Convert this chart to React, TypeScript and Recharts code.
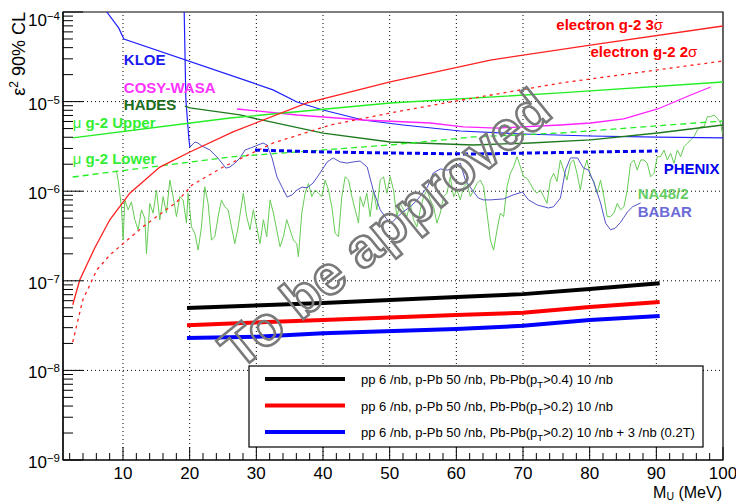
import React from 'react';
import { LineChart, Line, XAxis, YAxis, ReferenceLine, ReferenceArea, ReferenceDot } from 'recharts';

const FONT = '"Liberation Sans", Arial, Helvetica, sans-serif';

type Pt = [number, number];

// ---- series (M_U in MeV, epsilon^2) ----
const kloeA: Pt[] = [[7.57, 1e-4], [9.37, 6.6e-5], [10.13, 5.0e-5], [29.05, 1.66e-5], [32.5, 1.35e-5], [36.1, 9.9e-6], [40.0, 8.05e-6], [46.0, 6.23e-6], [52.0, 5.48e-6], [60.6, 4.7e-6], [70.0, 4.35e-6], [80.1, 4.13e-6], [90.1, 4.02e-6], [100, 3.93e-6]];
const kloeB: Pt[] = [[19.18, 1e-4], [19.43, 1.04e-5], [19.9, 3.7e-6], [20.04, 3.11e-6]];
const hades: Pt[] = [[19.28, 8.9e-6], [20.04, 8.5e-6], [27.55, 7.1e-6], [30.1, 6.4e-6], [40.0, 4.46e-6], [50.08, 3.54e-6], [62.55, 3.28e-6], [71.1, 3.45e-6], [80.13, 3.73e-6], [90.2, 4.46e-6], [100, 5.48e-6]];
const cosy: Pt[] = [[27.1, 8.27e-6], [36.1, 7.09e-6], [46.0, 6.23e-6], [56.1, 5.77e-6], [61.05, 5.21e-6], [66.2, 5.07e-6], [75.6, 5.48e-6], [80.13, 5.77e-6], [85.1, 6.4e-6], [90.2, 8.27e-6], [95.16, 1.185e-5], [98.15, 1.455e-5]];
const muUpper: Pt[] = [[2.46, 3.93e-6], [26.05, 6.56e-6], [50.08, 9.65e-6], [75.6, 1.25e-5], [100, 1.655e-5]];
const muLower: Pt[] = [[2.46, 1.44e-6], [26.05, 2.41e-6], [50.5, 3.3e-6], [62.55, 4.03e-6], [75.6, 4.46e-6], [100, 6.07e-6]];
const eg2s3: Pt[] = [[2.46, 5.4e-8], [3.51, 1.02e-7], [4.56, 1.5e-7], [5.76, 2.32e-7], [8.02, 4.8e-7], [11.02, 9.5e-7], [15.53, 1.86e-6], [20.04, 2.74e-6], [26.5, 4.6e-6], [37.6, 9.65e-6], [50.08, 1.66e-5], [65.1, 2.91e-5], [80.1, 4.28e-5], [100, 6.98e-5]];
const eg2s2: Pt[] = [[2.46, 2.07e-8], [3.96, 6.1e-8], [6.07, 1.32e-7], [8.02, 1.94e-7], [12.97, 4.0e-7], [18.08, 7.6e-7], [20.34, 1.17e-6], [25.0, 1.86e-6], [32.5, 3.45e-6], [41.1, 5.48e-6], [50.08, 7.46e-6], [60.15, 1.02e-5], [75.6, 1.61e-5], [100, 2.84e-5]];
const phenix: Pt[] = [[29.8, 2.88e-6], [40.02, 2.74e-6], [50.08, 2.67e-6], [62.55, 2.6e-6], [80.13, 2.74e-6], [90.2, 2.81e-6]];
const babar: Pt[] = [[20.04, 3.11e-6], [20.79, 3.54e-6], [21.24, 3.45e-6], [21.84, 3.19e-6], [23.04, 2.88e-6], [24.09, 2.41e-6], [24.84, 2.06e-6], [25.44, 1.81e-6], [26.04, 1.86e-6], [26.79, 2.06e-6], [27.55, 2.35e-6], [28.3, 2.88e-6], [29.5, 3.11e-6], [31.0, 3.45e-6], [31.6, 3.28e-6], [32.35, 2.35e-6], [33.1, 1.44e-6], [33.86, 1.11e-6], [34.61, 8.6e-7], [35.36, 9.1e-7], [36.1, 1.03e-6], [36.86, 1.11e-6], [37.61, 1.09e-6], [38.5, 1.23e-6], [39.57, 1.6e-6], [40.62, 2.12e-6], [41.52, 2.35e-6], [42.57, 2.12e-6], [43.62, 2.06e-6], [44.52, 2.12e-6], [45.57, 2.17e-6], [46.63, 1.86e-6], [47.53, 1.03e-6], [48.58, 6.2e-7], [49.63, 4.8e-7], [50.38, 4.5e-7], [51.14, 5.15e-7], [52.04, 5.9e-7], [53.09, 6.7e-7], [54.14, 8.0e-7], [55.65, 1.11e-6], [56.55, 1.6e-6], [57.6, 1.77e-6], [58.65, 1.72e-6], [59.55, 1.81e-6], [60.6, 2.06e-6], [61.35, 1.33e-6], [62.4, 1.03e-6], [63.3, 8.4e-7], [64.06, 8.0e-7], [65.1, 8.0e-7], [67.08, 8.2e-7], [68.56, 9.1e-7], [69.92, 9.8e-7], [70.82, 8.0e-7], [72.17, 7.0e-7], [73.82, 6.5e-7], [74.57, 6.7e-7], [75.62, 8.4e-7], [76.37, 1.72e-6], [77.12, 2.35e-6], [78.18, 2.35e-6], [79.08, 1.81e-6], [79.83, 1.72e-6], [80.58, 1.27e-6], [81.63, 7.4e-7], [82.39, 4.4e-7], [83.14, 3.7e-7], [83.89, 3.9e-7], [84.64, 4.5e-7], [85.69, 5.9e-7], [86.44, 6.7e-7], [87.64, 7.4e-7]];
const na48: Pt[] = [[9.0, 1.7e-6], [9.27, 1.33e-6], [9.77, 6.7e-7], [10.02, 2.85e-7], [10.27, 8.0e-7], [10.77, 6.2e-7], [11.27, 7.6e-7], [11.77, 4.8e-7], [12.27, 3.7e-7], [12.77, 6.2e-7], [13.27, 5.0e-7], [13.52, 2.0e-7], [14.02, 7.3e-7], [14.52, 5.7e-7], [15.02, 1.03e-6], [15.52, 4.8e-7], [16.02, 8.7e-7], [16.52, 5.7e-7], [17.02, 1.33e-6], [17.52, 8.7e-7], [18.02, 5.2e-7], [18.52, 8.7e-7], [19.02, 8.0e-7], [19.52, 4.4e-7], [19.77, 9.5e-7], [20.27, 4.0e-7], [20.77, 3.4e-7], [21.27, 2.2e-7], [21.77, 4.0e-7], [22.27, 1.12e-6], [22.77, 7.3e-7], [23.27, 2.85e-7], [23.77, 3.1e-7], [24.27, 5.2e-7], [24.77, 8.0e-7], [25.27, 6.7e-7], [25.77, 6.2e-7], [26.27, 4.0e-7], [26.77, 2.6e-7], [27.27, 4.0e-7],
  [28.05, 9.5e-7], [28.55, 5.2e-7], [29.05, 3.7e-7], [29.55, 6.2e-7], [30.05, 4.0e-7], [30.55, 2.6e-7], [31.06, 4.8e-7], [31.56, 3.1e-7], [32.06, 8.0e-7], [32.56, 5.7e-7], [33.06, 3.7e-7], [33.56, 2.4e-7], [34.06, 3.1e-7], [34.56, 4.8e-7], [35.06, 3.7e-7], [35.56, 2.85e-7], [36.06, 2.6e-7], [36.31, 1.86e-7], [36.82, 5.7e-7], [37.32, 9.5e-7], [37.82, 1.22e-6], [38.32, 8.7e-7], [38.82, 1.03e-6], [39.32, 9.5e-7], [39.82, 8.7e-7], [40.32, 1.33e-6], [40.82, 1.03e-6], [41.32, 6.7e-7], [41.82, 3.4e-7], [42.32, 3.1e-7], [42.82, 8.7e-7], [43.33, 1.45e-6], [43.83, 1.33e-6], [44.33, 8.7e-7], [44.83, 6.2e-7], [45.33, 4.4e-7],
  [45.57, 8.7e-7], [46.07, 6.7e-7], [46.57, 9.5e-7], [47.07, 5.2e-7], [47.57, 1.03e-6], [48.08, 6.2e-7], [48.58, 1.33e-6], [49.08, 1.45e-6], [49.58, 9.5e-7], [50.08, 1.45e-6], [50.58, 1.03e-6], [51.08, 5.2e-7], [51.58, 7.3e-7], [52.08, 6.2e-7], [52.58, 5.2e-7], [53.08, 7.3e-7], [53.58, 4.8e-7], [54.08, 4.0e-7], [54.59, 6.2e-7], [55.09, 8.7e-7], [55.59, 1.03e-6], [56.09, 8.0e-7], [56.59, 6.7e-7], [57.09, 4.4e-7], [57.59, 5.7e-7], [58.09, 8.7e-7], [58.59, 9.5e-7], [59.09, 1.45e-6], [59.59, 8.7e-7], [60.09, 1.03e-6], [60.6, 8.0e-7], [61.1, 1.12e-6], [61.6, 1.22e-6], [62.1, 8.7e-7], [62.6, 1.03e-6], [63.1, 1.22e-6], [63.6, 1.33e-6],
  [64.1, 1.12e-6], [64.6, 5.7e-7], [65.1, 2.85e-7], [65.6, 2.2e-7], [66.1, 3.7e-7], [66.6, 5.7e-7], [67.1, 5.2e-7], [67.6, 1.12e-6], [68.1, 1.58e-6], [68.6, 1.88e-6], [69.1, 2.43e-6], [69.6, 1.88e-6], [70.1, 1.45e-6], [70.6, 1.39e-6], [71.1, 1.22e-6], [71.6, 1.03e-6], [72.1, 9.5e-7], [72.6, 1.03e-6], [73.1, 8.7e-7], [73.6, 7.3e-7], [74.1, 1.33e-6], [74.6, 1.58e-6], [75.1, 1.28e-6], [75.6, 2.23e-6], [76.1, 1.72e-6], [76.6, 1.33e-6], [77.1, 2.05e-6], [77.6, 2.23e-6], [78.1, 1.58e-6], [78.6, 1.03e-6], [79.1, 1.72e-6], [79.6, 2.23e-6],
  [80.13, 1.45e-6], [80.63, 1.28e-6], [81.13, 9.5e-7], [81.63, 1.33e-6], [82.13, 8.7e-7], [82.63, 5.2e-7], [83.13, 5.2e-7], [83.63, 5.7e-7], [84.14, 7.3e-7], [84.64, 6.2e-7], [85.14, 6.7e-7], [85.64, 1.03e-6], [86.14, 2.05e-6], [86.64, 2.23e-6], [87.14, 1.72e-6], [87.64, 2.23e-6], [88.14, 2.23e-6], [88.64, 2.05e-6], [89.14, 1.45e-6], [89.64, 1.58e-6], [90.15, 2.43e-6], [90.65, 2.43e-6], [91.15, 2.88e-6], [91.65, 2.23e-6], [92.15, 2.65e-6], [92.65, 2.05e-6], [93.15, 2.88e-6], [93.65, 2.43e-6], [94.15, 3.14e-6], [94.65, 3.42e-6], [95.15, 3.73e-6], [95.65, 4.06e-6], [96.15, 4.82e-6], [96.65, 5.25e-6], [97.16, 5.25e-6], [97.66, 6.79e-6], [98.16, 6.79e-6], [98.66, 7.08e-6], [99.16, 6.51e-6], [99.66, 5.73e-6], [99.9, 4.43e-6]];

// ALICE projections
const aliceBlack: Pt[] = [[19.6, 4.97e-8], [40.0, 5.65e-8], [60.1, 6.6e-8], [70.0, 7.1e-8], [80.0, 8.1e-8], [90.5, 9.4e-8]];
const aliceRed: Pt[] = [[19.6, 3.2e-8], [40.0, 3.65e-8], [60.0, 4.15e-8], [70.0, 4.4e-8], [80.0, 5.1e-8], [90.5, 5.8e-8]];
const aliceBlue: Pt[] = [[19.6, 2.3e-8], [30.0, 2.38e-8], [40.0, 2.6e-8], [60.0, 2.9e-8], [70.0, 3.15e-8], [80.0, 3.65e-8], [90.5, 4.05e-8]];

const legendPre = ['pp 6 /nb, p-Pb 50 /nb, Pb-Pb(p', 'pp 6 /nb, p-Pb 50 /nb, Pb-Pb(p', 'pp 6 /nb, p-Pb 50 /nb, Pb-Pb(p'];
const legendPost = ['>0.4) 10 /nb', '>0.2) 10 /nb', '>0.2) 10 /nb + 3 /nb (0.2T)'];
const legendColors = ['#000000', '#ff0000', '#0000ff'];

// annotation labels (anchored in data coordinates)
const labelTexts = ['KLOE', 'COSY-WASA', 'HADES', 'μ| g-2 Upper', 'μ| g-2 Lower', 'electron g-2 3|σ', 'electron g-2 2|σ', 'PHENIX', 'NA48/2', 'BABAR'];
const labelM = [10.12, 10.12, 10.12, 2.46, 2.46, 75.0, 80.13, 91.1, 87.2, 87.2];
const labelV = [2.56e-5, 1.25e-5, 8.06e-6, 5.07e-6, 2.01e-6, 6.3e-5, 3.15e-5, 1.56e-6, 8.18e-7, 5.15e-7];
const labelColors = ['#1a1aee', '#ff33ff', '#1e6e1e', '#33ee33', '#33ee33', '#ff0000', '#ff0000', '#0000ee', '#66cc66', '#6b6bd6'];

// axes
const xMajor = [10, 20, 30, 40, 50, 60, 70, 80, 90, 100];
const xLabels = ['10', '20', '30', '40', '50', '60', '70', '80', '90', '100'];
const xMinor = [2, 4, 6, 8, 12, 14, 16, 18, 22, 24, 26, 28, 32, 34, 36, 38, 42, 44, 46, 48, 52, 54, 56, 58, 62, 64, 66, 68, 72, 74, 76, 78, 82, 84, 86, 88, 92, 94, 96, 98];
const yMajor = [1e-9, 1e-8, 1e-7, 1e-6, 1e-5, 1e-4];
const yExpLabels = ['−9', '−8', '−7', '−6', '−5', '−4'];
const yMinorMult = [2, 3, 4, 5, 6, 7, 8, 9];
const yMinor = yMajor.slice(0, 5).flatMap((d) => yMinorMult.map((k) => k * d));
const gridX = [10, 20, 30, 40, 50, 60, 70, 80, 90];
const gridY = [1e-8, 1e-7, 1e-6, 1e-5];

const pts = (a: Pt[]) => a.map(([m, v]) => ({ m, v }));

const XTick = (props: any) => {
  const { x, y, payload } = props;
  const i = xMajor.indexOf(payload.value);
  const major = i >= 0;
  return (
    <g>
      <line x1={x} x2={x} y1={y} y2={y - (major ? 13 : 7)} stroke="#000" strokeWidth={1} />
      {major && (
        <text x={x} y={y + 19} textAnchor="middle" fontSize={17} fontFamily={FONT} fill="#000">
          {xLabels[i]}
        </text>
      )}
    </g>
  );
};

const YTick = (props: any) => {
  const { x, y, payload } = props;
  const i = yMajor.findIndex((v) => Math.abs(v - payload.value) < v * 1e-6);
  const major = i >= 0;
  const top = i === yMajor.length - 1;
  return (
    <g>
      <line x1={x} x2={x + (major ? 20 : 10)} y1={y} y2={y} stroke="#000" strokeWidth={1} />
      {major && (
        <text x={x - 3} y={y + (top ? 14 : 8)} textAnchor="end" fontSize={17} fontFamily={FONT} fill="#000">
          <tspan>10</tspan>
          <tspan dy={-6} fontSize={11.5}>{yExpLabels[i]}</tspan>
        </text>
      )}
    </g>
  );
};

const renderLabel = (idx: number) => (p: any) => {
  const parts = labelTexts[idx].split('|');
  const sym = parts.length > 1;
  const isPrefixSym = sym && parts[0] === 'μ';
  return (
    <text x={p.cx} y={p.cy} fontSize={15} fontFamily={FONT} fontWeight="bold" fill={labelColors[idx]}>
      {sym ? (
        isPrefixSym ? (
          <>
            <tspan fontWeight="normal">{parts[0]}</tspan>
            <tspan>{parts[1]}</tspan>
          </>
        ) : (
          <>
            <tspan>{parts[0]}</tspan>
            <tspan fontWeight="normal">{parts[1]}</tspan>
          </>
        )
      ) : (
        labelTexts[idx]
      )}
    </text>
  );
};

export default function App() {
  const thin = { dot: false, isAnimationActive: false, type: 'linear' as const, dataKey: 'v' };
  return (
    <div style={{ position: 'absolute', left: 0, top: 0, width: 736, height: 503, background: '#fff' }}>
      <LineChart width={736} height={503} margin={{ top: 12, right: 13, bottom: 0, left: 0 }}>
        <XAxis
          dataKey="m"
          type="number"
          domain={[1, 100]}
          allowDataOverflow
          ticks={[...xMinor, ...xMajor]}
          interval={0}
          tick={(p: any) => <XTick {...p} />}
          tickLine={false}
          tickSize={0}
          tickMargin={0}
          height={43}
          axisLine={{ stroke: '#000', strokeWidth: 1.2 }}
        />
        <YAxis
          type="number"
          scale="log"
          domain={[1e-9, 1e-4]}
          allowDataOverflow
          ticks={[...yMinor, ...yMajor]}
          interval={0}
          tick={(p: any) => <YTick {...p} />}
          tickLine={false}
          tickSize={0}
          tickMargin={0}
          width={63}
          axisLine={{ stroke: '#000', strokeWidth: 1.2 }}
        />
        {gridX.map((g) => (
          <ReferenceLine key={'gx' + g} x={g} stroke="#000" strokeWidth={1} strokeDasharray="1 3" />
        ))}
        {gridY.map((g) => (
          <ReferenceLine key={'gy' + g} y={g} stroke="#000" strokeWidth={1} strokeDasharray="1 3" />
        ))}
        <Line {...thin} data={pts(na48)} stroke="#66cc55" strokeWidth={1} />
        <Line {...thin} data={pts(babar)} stroke="#5252c8" strokeWidth={1} />
        <Line {...thin} data={pts(kloeA)} stroke="#2020ff" strokeWidth={1.2} />
        <Line {...thin} data={pts(kloeB)} stroke="#2020ff" strokeWidth={1.2} />
        <Line {...thin} data={pts(hades)} stroke="#1e7a1e" strokeWidth={1.3} />
        <Line {...thin} data={pts(cosy)} stroke="#ff22ff" strokeWidth={1.3} />
        <Line {...thin} data={pts(muUpper)} stroke="#22ee22" strokeWidth={1.3} />
        <Line {...thin} data={pts(muLower)} stroke="#22ee22" strokeWidth={1.3} strokeDasharray="6 4" />
        <Line {...thin} data={pts(eg2s3)} stroke="#ff2020" strokeWidth={1.3} />
        <Line {...thin} data={pts(eg2s2)} stroke="#ff2020" strokeWidth={1.3} strokeDasharray="3 4" />
        <Line {...thin} data={pts(phenix)} stroke="#0000ee" strokeWidth={3} strokeDasharray="5 3" />
        <Line {...thin} data={pts(aliceBlack)} stroke="#000000" strokeWidth={4} />
        <Line {...thin} data={pts(aliceRed)} stroke="#ff0000" strokeWidth={4} />
        <Line {...thin} data={pts(aliceBlue)} stroke="#0000ff" strokeWidth={4} />
        <ReferenceArea x1={1} x2={100} y1={1e-9} y2={1e-4} fill="none" stroke="#000" strokeWidth={1.2} ifOverflow="visible" />
        {labelTexts.map((t, i) => (
          <ReferenceDot key={'lb' + i} x={labelM[i]} y={labelV[i]} r={0} ifOverflow="visible" shape={renderLabel(i)} />
        ))}
      </LineChart>
      <svg width={736} height={503} style={{ position: 'absolute', left: 0, top: 0, pointerEvents: 'none' }}>
        <text transform="translate(25,12) rotate(-90)" textAnchor="end" fontSize={18} fontFamily={FONT} fill="#000">
          ε<tspan dy={-7} fontSize={12}>2</tspan>
          <tspan dy={7}> 90% CL</tspan>
        </text>
        <text x={722} y={498} textAnchor="end" fontSize={16} fontFamily={FONT} fill="#000">
          M<tspan dy={2} fontSize={10.5}>U</tspan>
          <tspan dy={-2}> (MeV)</tspan>
        </text>
        <rect x={249} y={366} width={454} height={81} fill="#fff" stroke="#000" strokeWidth={1.2} />
        {legendPre.map((pre, i) => {
          const ly = 379 + i * 26.5;
          return (
            <g key={'lg' + i}>
              <line x1={265} x2={345} y1={ly} y2={ly} stroke={legendColors[i]} strokeWidth={4} />
              <text x={361} y={ly + 5} fontSize={13} fontFamily={FONT} fill="#000">
                {pre}
                <tspan dy={4} fontSize={9.5}>T</tspan>
                <tspan dy={-4}>{legendPost[i]}</tspan>
              </text>
            </g>
          );
        })}
        <text
          transform="translate(388,232) rotate(-39)"
          textAnchor="middle"
          dominantBaseline="middle"
          fontSize={55}
          fontWeight="bold"
          fontFamily={FONT}
          fill="none"
          stroke="#7a7a7a"
          strokeWidth={2.6}
        >
          To be approved
        </text>
      </svg>
    </div>
  );
}
